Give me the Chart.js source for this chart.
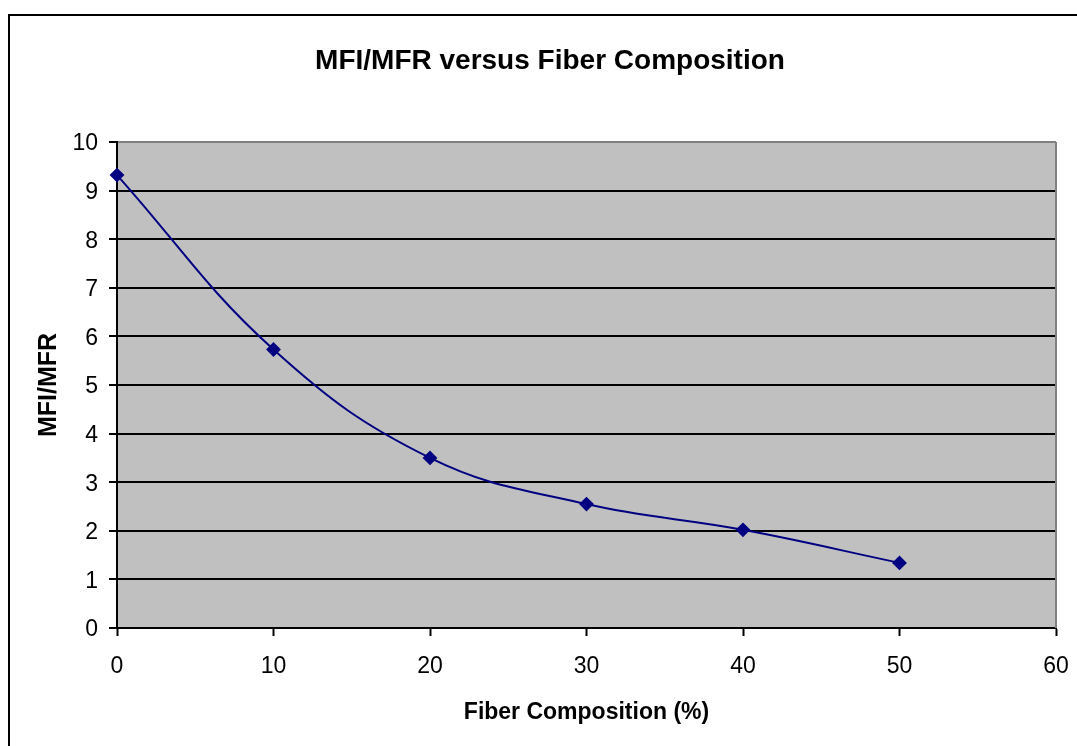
<!DOCTYPE html>
<html>
<head>
<meta charset="utf-8">
<title>MFI/MFR versus Fiber Composition</title>
<script src="https://cdn.jsdelivr.net/npm/chart.js@4/dist/chart.umd.min.js"></script>
<style>
    html, body { margin: 0; padding: 0; background: #fff; overflow: hidden; }
    #wrap { width: 1077px; height: 746px; }
</style>
</head>
<body>
<div id="wrap"><canvas id="myChart" width="1077" height="746"></canvas></div>
<script>
// données
const fiberComposition = [0, 10, 20, 30, 40, 50];
const mfiMfr = [9.32, 5.73, 3.50, 2.55, 2.02, 1.34];
const xTicks = [0, 10, 20, 30, 40, 50, 60];
const yTicks = [0, 1, 2, 3, 4, 5, 6, 7, 8, 9, 10];

const FONT = '"Liberation Sans", Arial, sans-serif';

// fond gris de la zone de tracé + cadre extérieur
const excelFrame = {
    id: 'excelFrame',
    beforeDraw(chart) {
        const { ctx, chartArea: a } = chart;
        ctx.save();
        ctx.fillStyle = '#ffffff';
        ctx.fillRect(0, 0, chart.width, chart.height);
        ctx.fillStyle = '#c0c0c0';
        ctx.fillRect(a.left, a.top, a.right - a.left, a.bottom - a.top);
        ctx.restore();
    },
    afterDraw(chart) {
        const { ctx, chartArea: a } = chart;
        ctx.save();
        // bord droit gris
        ctx.strokeStyle = '#808080';
        ctx.lineWidth = 2;
        ctx.beginPath();
        ctx.moveTo(a.right, a.top);
        ctx.lineTo(a.right, a.bottom);
        ctx.stroke();
        // cadre du graphique (dépasse à droite et en bas)
        ctx.strokeStyle = '#000000';
        ctx.lineWidth = 2;
        ctx.strokeRect(9, 15, 2000, 2000);
        ctx.restore();
    }
};

const points = fiberComposition.map((x, i) => ({ x: x, y: mfiMfr[i] }));

const ctx = document.getElementById('myChart').getContext('2d');
const myChart = new Chart(ctx, {
    type: 'scatter',
    data: {
        datasets: [{
            data: points,
            showLine: true,
            borderColor: '#000080',
            backgroundColor: '#000080',
            borderWidth: 2,
            tension: 0.4,
            pointStyle: 'rectRot',
            pointRadius: 6,
            pointHoverRadius: 6,
            clip: false
        }]
    },
    plugins: [excelFrame],
    options: {
        responsive: false,
        animation: false,
        layout: { padding: { left: 44, top: 0, right: 21, bottom: 0 } },
        plugins: {
            legend: { display: false },
            tooltip: { enabled: false },
            title: {
                display: true,
                text: 'MFI/MFR versus Fiber Composition',
                color: '#000',
                font: { family: FONT, size: 28, weight: 'bold', lineHeight: 1.2 },
                padding: { top: 44, bottom: 64.4 }
            }
        },
        scales: {
            x: {
                type: 'linear',
                min: 0,
                max: 60,
                afterBuildTicks: s => { s.ticks = xTicks.map(v => ({ value: v })); },
                afterFit: s => { s.height = 118; s.paddingLeft = 0; s.paddingRight = 0; },
                grid: {
                    drawOnChartArea: false,
                    drawTicks: true,
                    tickLength: 8,
                    tickColor: '#000',
                    tickWidth: 2
                },
                border: { color: '#000', width: 2 },
                ticks: {
                    color: '#000',
                    padding: 17,
                    font: { family: FONT, size: 23 }
                },
                title: {
                    display: true,
                    text: 'Fiber Composition (%)',
                    color: '#000',
                    font: { family: FONT, size: 23, weight: 'bold', lineHeight: 1.2 },
                    padding: { top: 0, bottom: 20 }
                }
            },
            y: {
                type: 'linear',
                min: 0,
                max: 10,
                afterBuildTicks: s => { s.ticks = yTicks.map(v => ({ value: v })); },
                afterFit: s => { s.width = 73; s.paddingTop = 0; s.paddingBottom = 0; },
                grid: {
                    color: c => (c.tick && c.tick.value === 10) ? '#808080' : '#000',
                    lineWidth: 2,
                    drawTicks: true,
                    tickLength: 8,
                    tickColor: '#000',
                    tickWidth: 2
                },
                border: { color: '#000', width: 2 },
                ticks: {
                    color: '#000',
                    padding: 11,
                    labelOffset: 2,
                    font: { family: FONT, size: 23 }
                },
                title: {
                    display: true,
                    text: 'MFI/MFR',
                    color: '#000',
                    font: { family: FONT, size: 25, weight: 'bold', lineHeight: 1.2 },
                    padding: { top: -10, bottom: 0 }
                }
            }
        }
    }
});
</script>
</body>
</html>
